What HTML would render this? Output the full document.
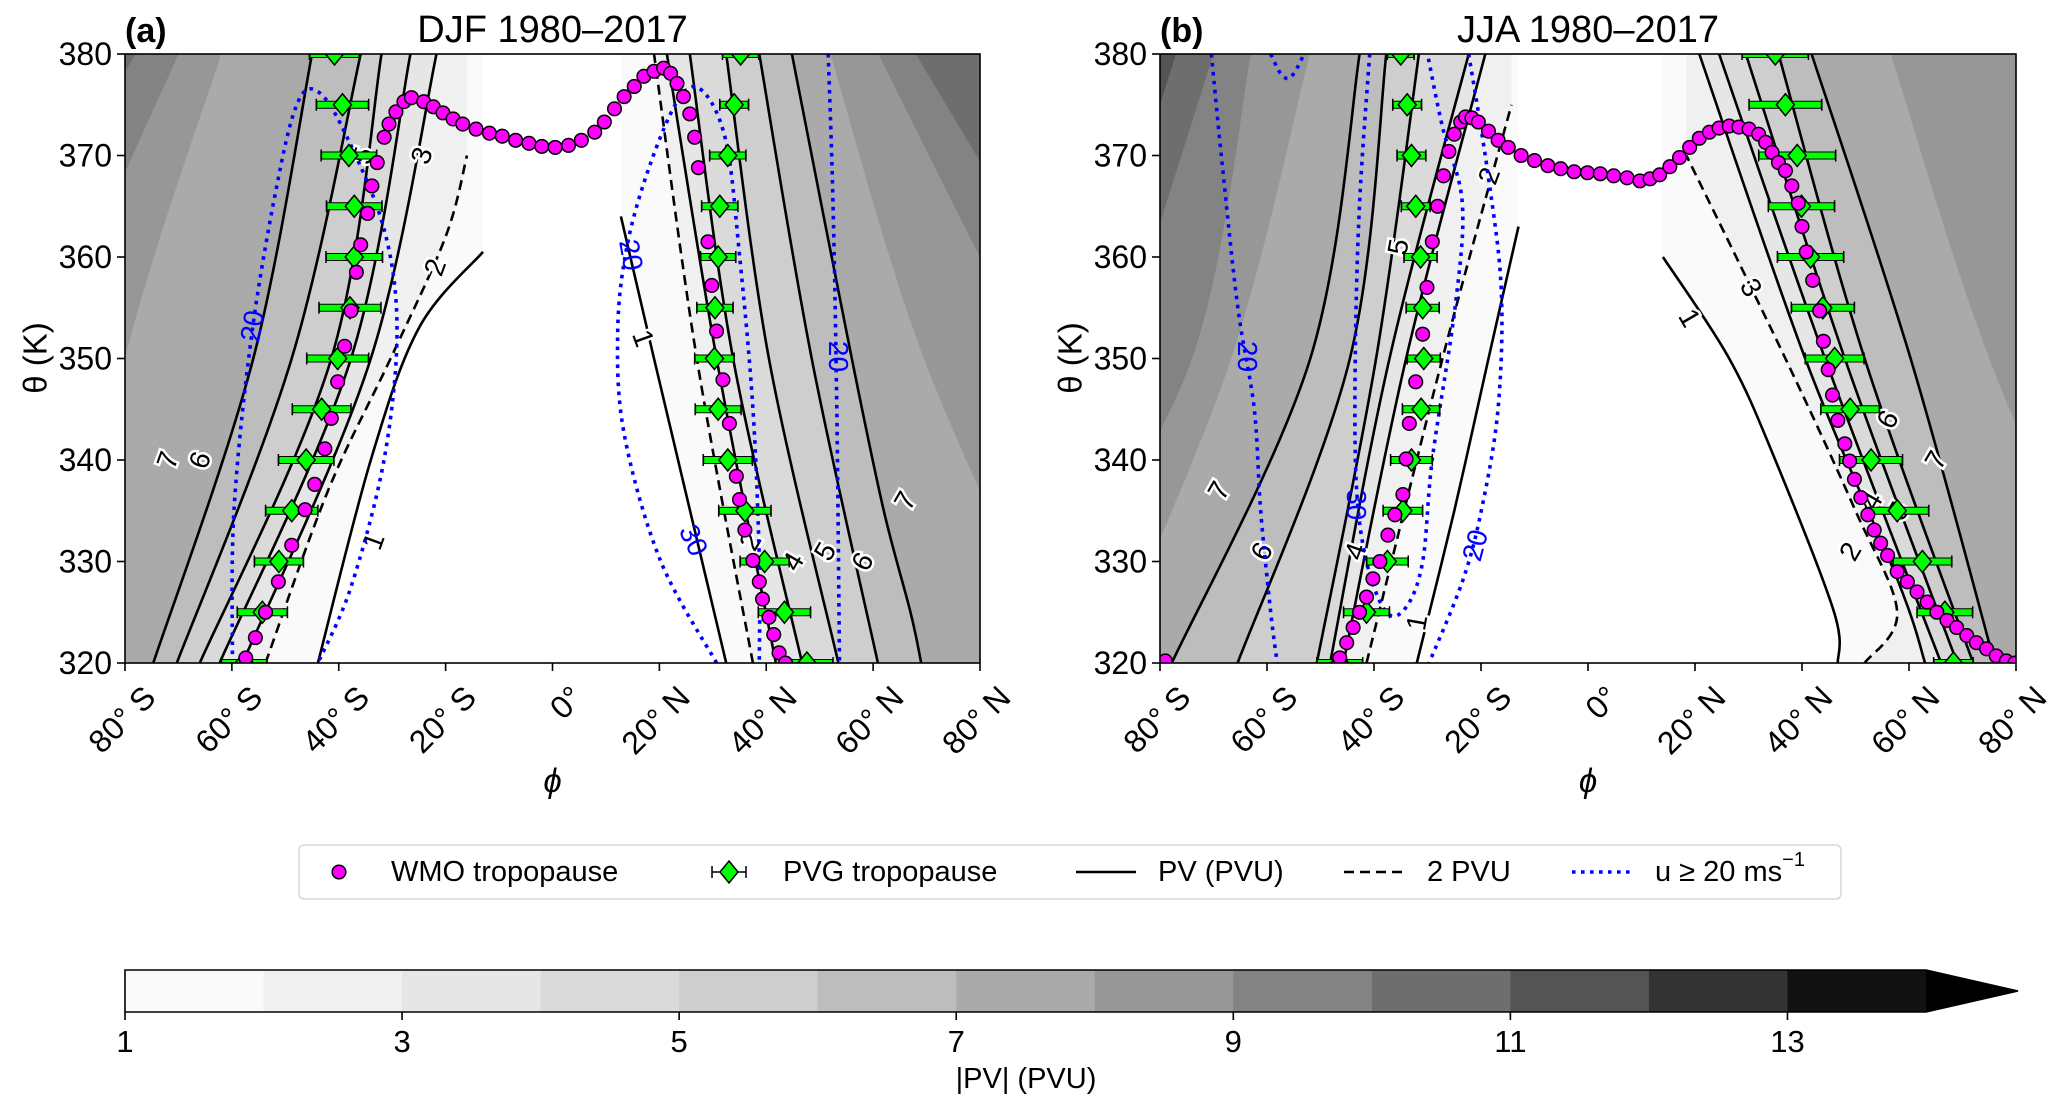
<!DOCTYPE html>
<html><head><meta charset="utf-8"><style>
html,body{margin:0;padding:0;background:#fff;}
svg{display:block;font-family:"Liberation Sans","DejaVu Sans",sans-serif;}
</style></head><body>
<svg id="fig" width="2067" height="1111" viewBox="0 0 2067 1111" xmlns="http://www.w3.org/2000/svg"></svg>
<script>
// ---------- DATA ----------
const pvLevels = [1,2,3,4,5,6,7,8,9,10,11];
const pvLineLevels = [1,2,3,4,5,6,7];
// contour positions [lat, theta]
const aSH = {
 1:[[-43.9,320],[-34,340],[-25,353],[-13,360.5]],
 2:[[-53.7,320],[-42,337],[-30.3,350],[-20,362],[-16,370]],
 3:[[-58,320],[-34,350],[-21.7,380]],
 4:[[-62.3,320],[-37.7,350],[-26.6,380]],
 5:[[-66,320],[-41.4,350],[-32,380]],
 6:[[-70.3,320],[-48.8,350],[-35.9,380]],
 7:[[-74.7,320],[-56,350],[-45,380]],
 8:[[-90,320],[-80,350],[-62,380]],
 9:[[-100,330],[-90,355],[-70,380]],
 10:[[-95,365],[-78,380]]
};
const aNH = {
 1:[[32.5,320],[19,350],[12.8,364]],
 2:[[37.5,320],[27,350],[19,380]],
 3:[[41.8,320],[30.7,350],[21.4,380]],
 4:[[46.7,320],[33.8,350],[25.7,380]],
 5:[[53.5,320],[40.5,350],[32.5,380]],
 6:[[60.9,320],[48.5,350],[38.7,380]],
 7:[[69,320],[67,325],[62,335],[56,350],[44.8,380]],
 8:[[95,320],[69.5,350],[52,380]],
 9:[[100,340],[80,360],[61,380]],
 10:[[85,365],[68,380]]
};
const bSH = {
 1:[[-32,320],[-25,335],[-18.6,350],[-13,363]],
 2:[[-41.4,320],[-27.2,350],[-14.3,375]],
 3:[[-45.7,320],[-34,350],[-19.2,380]],
 4:[[-48.2,320],[-37.1,350],[-22.3,380]],
 5:[[-50.7,320],[-39.6,350],[-31.6,380]],
 6:[[-65.5,320],[-44.5,350],[-37.7,380]],
 7:[[-77.8,320],[-51.9,350],[-42.7,380]],
 8:[[-90,320],[-66.7,350],[-52,380]],
 9:[[-100,325],[-74,350],[-63,380]],
 10:[[-88,350],[-70,380]],
 11:[[-95,350],[-77,380]]
};
const bNH = {
 1:[[46.7,320],[46,325],[35,340],[26.4,350],[14,360]],
 2:[[51.7,320],[57.8,325],[50,335],[36.9,350],[18.4,370]],
 3:[[63,320],[58,328],[40.6,350],[20.8,380]],
 4:[[66,320],[44.3,350],[24.5,380]],
 5:[[69,320],[48,350],[29.5,380]],
 6:[[72,320],[51.7,350],[35.6,380]],
 7:[[76,320],[60.3,350],[41.8,380]],
 8:[[100,320],[75,350],[56.6,380]]
};
// wind (u >= 20 m/s) contours
const aWind = [
 [[-59.9,320],[-59.6,335.1],[-56.2,352.7],[-51.3,367.8],[-47.6,375.3],[-43.9,376.3],[-38.9,372.3],[-31.5,362.7],[-29.1,352.7],[-31.5,340.1],[-37.7,327.5],[-43.9,320]],
 [[30.7,320],[20.2,330.1],[13.4,342.6],[12.2,352.7],[14.0,361.2],[18.4,369.3],[23.9,375.8],[28.2,376.3],[32.5,371.3],[35.0,360.2],[37.5,345.1],[38.7,330.1],[38.7,320]],
 [[51.6,380],[52.5,365.3],[53.2,345.1],[53.7,320]]
];
const bWind = [
 [[-70.4,380],[-68.6,370.3],[-65.5,355.2],[-62.4,345.1],[-61.2,335.1],[-59.3,325.0],[-58.1,320]],
 [[-59.3,380],[-57.5,378.1],[-55.9,377.6],[-54.4,378.6],[-53.1,380]],
 [[-40.8,380],[-42.7,365.3],[-43.5,350.2],[-43.3,337.6],[-41.4,330.0],[-37.7,325.0],[-34.0,325.5],[-30.9,330.0],[-29.1,340.1],[-24.8,355.2],[-23.5,365.3],[-27.2,372.8],[-30.0,380]],
 [[-22.3,380],[-18.6,367.8],[-16.2,356.7],[-16.8,345.1],[-19.9,335.1],[-23.5,328.0],[-29.7,320]]
];
const aWindLabels = [["20",-56.2,353.2,-80],["20",14.7,360.2,80],["30",26.4,332.1,65],["20",53.5,350.2,90]];
const bWindLabels = [["20",-63.6,350.2,90],["30",-43.3,335.6,90],["20",-21.1,331.6,-75]];
const aPvLabels = [["7",-72,340,-70],["6",-66,340,-70],["5",-35.5,370,-70],["3",-24.5,370,-70],["2",-22,359,-70],["1",-33.5,332,-70],["1",17,352,70],["2",37,332,-60],["4",45,330,-60],["5",51,331,-60],["6",58,330,-60],["7",66,336,-60]];
const bPvLabels = [["7",-69,337,-60],["6",-61,331,-60],["4",-43.5,331,-70],["5",-35.5,361,-80],["1",-32,324,-80],["2",-18.5,368,-70],["1",19,354,60],["3",30.5,357,60],["6",56,344,-60],["7",65,340,-60],["4",53,336,-60],["5",58,335,-60],["2",49,331,-60]];
// WMO tropopause [lat, theta]
const aWMO = [[-57.4,320.5],[-55.6,322.5],[-53.7,325.0],[-51.3,328.0],[-48.8,331.6],[-46.3,335.1],[-44.5,337.6],[-42.6,341.1],[-41.4,344.1],[-40.2,347.7],[-38.9,351.2],[-37.7,354.7],[-36.7,358.5],[-35.9,361.2],[-34.6,364.3],[-33.8,367.0],[-32.8,369.3],[-31.5,371.8],[-30.6,373.1],[-29.3,374.3],[-27.8,375.3],[-26.4,375.7],[-24.1,375.3],[-22.3,374.8],[-20.5,374.2],[-18.6,373.6],[-16.8,373.1],[-14.3,372.6],[-11.8,372.2],[-9.4,371.9],[-6.9,371.5],[-4.4,371.2],[-2.0,370.9],[0.5,370.8],[3.0,371.0],[5.4,371.5],[7.9,372.3],[9.7,373.3],[11.6,374.6],[13.4,375.8],[15.3,376.8],[17.1,377.8],[19.0,378.3],[20.8,378.6],[22.1,378.1],[23.3,377.1],[24.5,375.8],[25.7,374.1],[26.6,371.8],[27.3,368.8],[29.1,361.5],[29.8,357.2],[30.7,352.7],[31.9,347.9],[33.1,343.6],[34.4,338.4],[35.0,336.1],[36.0,333.1],[37.5,330.1],[38.7,328.0],[39.3,326.3],[40.5,324.5],[41.4,322.8],[42.4,321.0],[43.6,320]];
const bWMO = [[-79.0,320.2],[-46.4,320.5],[-45.1,322.0],[-43.9,323.5],[-42.7,325.0],[-41.4,326.5],[-40.2,328.3],[-38.9,330.0],[-37.4,332.6],[-36.1,334.6],[-34.6,336.6],[-34.0,340.1],[-33.4,343.6],[-32.2,347.7],[-30.9,352.4],[-30.1,357.0],[-29.1,361.5],[-28.1,365.0],[-27.0,368.0],[-26.0,370.4],[-25.0,372.1],[-23.8,373.3],[-22.9,373.8],[-21.7,373.7],[-20.5,373.3],[-18.6,372.4],[-16.8,371.5],[-14.9,370.8],[-12.5,370.0],[-10.0,369.5],[-7.5,369.0],[-5.1,368.7],[-2.6,368.4],[-0.1,368.3],[2.3,368.2],[4.8,368.0],[7.3,367.8],[9.7,367.5],[11.6,367.7],[13.4,368.1],[15.3,368.9],[17.1,369.8],[19.0,370.8],[20.8,371.7],[22.7,372.3],[24.5,372.7],[26.4,372.9],[28.2,372.8],[30.1,372.6],[31.9,372.1],[33.2,371.3],[34.4,370.3],[35.6,369.3],[36.9,368.5],[38.1,367.0],[39.3,365.3],[40.0,363.0],[40.8,360.5],[42.0,357.7],[43.3,354.7],[44.0,351.7],[44.9,348.9],[45.7,346.4],[46.7,343.9],[48.0,341.6],[48.9,339.9],[49.8,338.1],[51.0,336.3],[52.3,334.6],[53.5,333.1],[54.7,331.8],[56.0,330.6],[57.8,329.0],[59.7,328.0],[61.5,327.0],[63.4,326.0],[65.2,325.0],[67.1,324.2],[68.9,323.5],[70.8,322.7],[72.6,322.0],[74.5,321.4],[76.3,320.7],[78.2,320.2],[79.8,320]];
// PVG tropopause
const pvgTheta = [320,325,330,335,340,345,350,355,360,365,370,375,380];
const aPvgSH = [-57.7,-54.3,-51.2,-48.8,-46.1,-43.2,-40.2,-37.9,-37.1,-37.1,-38.1,-39.3,-40.8];
const aPvgSHerr = [4.3,4.7,4.6,4.9,5.2,5.5,5.8,5.8,5.3,5.2,5.2,4.9,4.7];
const aPvgNH = [47.6,43.4,39.7,36.0,32.8,31.0,30.3,30.4,31.0,31.3,32.8,34.0,35.2];
const aPvgNHerr = [4.9,4.9,4.6,4.9,4.6,4.3,3.7,3.4,3.3,3.4,3.4,2.7,3.4];
const bPvgSH = [-46.4,-41.4,-37.5,-34.6,-33.0,-31.2,-30.7,-30.9,-31.3,-32.2,-33.0,-33.8,-35.0];
const bPvgSHerr = [4.3,4.3,3.9,3.7,3.9,3.5,3.1,3.1,3.1,2.7,2.7,2.7,2.5];
const bPvgNH = [68.3,66.7,62.5,57.8,52.9,49.0,46.1,43.9,41.6,39.9,39.1,36.9,35.0];
const bPvgNHerr = [3.7,5.2,5.5,5.9,5.9,5.5,5.5,5.9,6.2,6.2,7.2,6.8,6.2];
const xTickVals = [-80,-60,-40,-20,0,20,40,60,80];
const xTickLabels = ["80° S","60° S","40° S","20° S","0°","20° N","40° N","60° N","80° N"];
const yTickVals = [320,330,340,350,360,370,380];
const cbarColors = ["#fafafa","#f0f0f0","#e6e6e6","#dadada","#cecece","#bdbdbd","#aaaaaa","#979797","#838383","#6e6e6e","#545454","#333333","#111111"];
const cbarTicks = [1,3,5,7,9,11,13];

// ---------- DRAW ----------
const NS = "http://www.w3.org/2000/svg";
const svg = document.getElementById("fig");
function el(tag, attrs, parent){const e=document.createElementNS(NS,tag);for(const k in attrs)e.setAttribute(k,attrs[k]);(parent||svg).appendChild(e);return e;}
function smooth(pts){
  if(pts.length<3){return "M"+pts.map(p=>p[0].toFixed(1)+","+p[1].toFixed(1)).join("L");}
  let d="M"+pts[0][0].toFixed(1)+","+pts[0][1].toFixed(1);
  for(let i=0;i<pts.length-1;i++){
    const p0=pts[Math.max(0,i-1)],p1=pts[i],p2=pts[i+1],p3=pts[Math.min(pts.length-1,i+2)];
    const t=1/6;
    const c1=[p1[0]+(p2[0]-p0[0])*t,p1[1]+(p2[1]-p0[1])*t];
    const c2=[p2[0]-(p3[0]-p1[0])*t,p2[1]-(p3[1]-p1[1])*t];
    d+="C"+c1.map(v=>v.toFixed(1)).join(",")+" "+c2.map(v=>v.toFixed(1)).join(",")+" "+p2[0].toFixed(1)+","+p2[1].toFixed(1);
  }
  return d;
}
const Y0=54, Y1=663;
function drawPanel(id, X0, X1, SH, NH, wind, windLabels, pvLabels, wmo, pvgSH, pvgSHerr, pvgNH, pvgNHerr, letter, title){
  const sx = lat => X0 + (lat+80)/160*(X1-X0);
  const sy = th => Y1 - (th-320)/60*(Y1-Y0);
  const g = el("g",{});
  
  
  const cp = el("clipPath",{id:"clip"+id},g);
  el("rect",{x:X0,y:Y0,width:X1-X0,height:Y1-Y0},cp);
  const plot = el("g",{"clip-path":"url(#clip"+id+")"},g);
  el("rect",{x:X0,y:Y0,width:X1-X0,height:Y1-Y0,fill:"#ffffff"},plot);
  [SH,NH].forEach((side,si)=>{
    const far = si===0 ? -250 : 250;
    pvLevels.forEach(L=>{
      const c = side[L]; if(!c) return;
      const pts = c.map(p=>[sx(p[0]),sy(p[1])]);
      const first=c[0], last=c[c.length-1];
      let d = smooth(pts);
      d += "L"+sx(last[0]).toFixed(1)+","+sy(Math.max(last[1],385)).toFixed(1);
      d += "L"+sx(far)+","+sy(385)+"L"+sx(far)+","+sy(315);
      d += "L"+sx(first[0]).toFixed(1)+","+sy(315)+"Z";
      const f = el("path",{d:d,fill:cbarColors[Math.min(L-1,12)],stroke:"none"},plot);
      
      
    });
  });
  [SH,NH].forEach(side=>{
    pvLineLevels.forEach(L=>{
      const c = side[L]; if(!c) return;
      const ln = el("path",{d:smooth(c.map(p=>[sx(p[0]),sy(p[1])])),fill:"none",stroke:"#000",
        "stroke-width":2.6,"stroke-dasharray":L===2?"10,6":"none"},plot);
      
      
    });
  });
  pvLabels.forEach(l=>{
    const t = el("text",{x:sx(l[1]),y:sy(l[2]),"font-size":28,"text-anchor":"middle","dominant-baseline":"central",
      transform:"rotate("+l[3]+" "+sx(l[1])+" "+sy(l[2])+")",fill:"#000",stroke:"#fff","stroke-width":5,"paint-order":"stroke"},plot);
    t.textContent = l[0];
    
    
  });
  wind.forEach(c=>{
    const w = el("path",{d:smooth(c.map(p=>[sx(p[0]),sy(p[1])])),fill:"none",stroke:"#0000ff","stroke-width":3.6,"stroke-dasharray":"3.6,5.4"},plot);
    
    
  });
  windLabels.forEach(l=>{
    const t = el("text",{x:sx(l[1]),y:sy(l[2]),"font-size":28,"text-anchor":"middle","dominant-baseline":"central",
      transform:"rotate("+l[3]+" "+sx(l[1])+" "+sy(l[2])+")",fill:"#0000ff"},plot);
    t.textContent = l[0];
    
    
  });
  [[pvgSH,pvgSHerr],[pvgNH,pvgNHerr]].forEach(pair=>{
    pvgTheta.forEach((th,i)=>{
      const x=sx(pair[0][i]), y=sy(th), e=(X1-X0)/160*pair[1][i];
      const gg = el("g",{},plot);
      
      
      el("line",{x1:x-e,x2:x+e,y1:y,y2:y,stroke:"#000","stroke-width":8},gg);
      el("line",{x1:x-e+1,x2:x+e-1,y1:y,y2:y,stroke:"#00ff00","stroke-width":6},gg);
      el("line",{x1:x-e,x2:x-e,y1:y-6,y2:y+6,stroke:"#000","stroke-width":1.5},gg);
      el("line",{x1:x+e,x2:x+e,y1:y-6,y2:y+6,stroke:"#000","stroke-width":1.5},gg);
      el("path",{d:`M${x},${y-11}L${x+9},${y}L${x},${y+11}L${x-9},${y}Z`,fill:"#00ff00",stroke:"#000","stroke-width":1.5},gg);
    });
  });
  wmo.forEach(p=>{
    const c = el("circle",{cx:sx(p[0]),cy:sy(p[1]),r:6.8,fill:"#ff00ff",stroke:"#000","stroke-width":1.5},plot);
    
    
  });
  const fr = el("rect",{x:X0,y:Y0,width:X1-X0,height:Y1-Y0,fill:"none",stroke:"#000","stroke-width":1.6},g);
  
  
  xTickVals.forEach((v,i)=>{
    const x=sx(v);
    el("line",{x1:x,x2:x,y1:Y1,y2:Y1+8,stroke:"#000","stroke-width":1.6},g);
    const t = el("text",{x:x+16,y:Y1+20,"font-size":32,"text-anchor":"end","dominant-baseline":"hanging",transform:`rotate(-45 ${x+16} ${Y1+20})`},g);
    t.textContent = xTickLabels[i];
    
    
  });
  yTickVals.forEach(v=>{
    const y=sy(v);
    el("line",{x1:X0-8,x2:X0,y1:y,y2:y,stroke:"#000","stroke-width":1.6},g);
    const t = el("text",{x:X0-13,y:y,"font-size":32,"text-anchor":"end","dominant-baseline":"central"},g);
    t.textContent = v;
    
    
  });
  const xl = el("text",{x:(X0+X1)/2,y:792,"font-size":33,"text-anchor":"middle","font-style":"italic"},g);
  xl.textContent = "ϕ";
  
  
  const yl = el("text",{x:X0-90,y:358,"font-size":33,"text-anchor":"middle","dominant-baseline":"central",transform:`rotate(-90 ${X0-90} 358)`},g);
  yl.textContent = "θ (K)";
  
  
  const pl = el("text",{x:X0,y:42,"font-size":34,"font-weight":"bold"},g);
  pl.textContent = letter;
  
  
  const tt = el("text",{x:(X0+X1)/2,y:42,"font-size":38,"text-anchor":"middle"},g);
  tt.textContent = title;
  
  
}
drawPanel("a",125,980,aSH,aNH,aWind,aWindLabels,aPvLabels,aWMO,aPvgSH,aPvgSHerr,aPvgNH,aPvgNHerr,"(a)","DJF 1980–2017");
drawPanel("b",1160,2016,bSH,bNH,bWind,bWindLabels,bPvLabels,bWMO,bPvgSH,bPvgSHerr,bPvgNH,bPvgNHerr,"(b)","JJA 1980–2017");

// legend
const lg = el("g",{});


el("rect",{x:299,y:845,width:1542,height:54,rx:5,fill:"#fff",stroke:"#d8d8d8","stroke-width":1.6},lg);
const LY=872;
el("circle",{cx:339,cy:LY,r:6.8,fill:"#ff00ff",stroke:"#000","stroke-width":1.5},lg);
el("line",{x1:712,x2:746,y1:LY,y2:LY,stroke:"#000","stroke-width":1.5},lg);
el("line",{x1:712,x2:712,y1:LY-6,y2:LY+6,stroke:"#000","stroke-width":1.5},lg);
el("line",{x1:746,x2:746,y1:LY-6,y2:LY+6,stroke:"#000","stroke-width":1.5},lg);
el("path",{d:`M729,${LY-11}L738,${LY}L729,${LY+11}L720,${LY}Z`,fill:"#00ff00",stroke:"#000","stroke-width":1.5},lg);
el("line",{x1:1076,x2:1136,y1:LY,y2:LY,stroke:"#000","stroke-width":2.6},lg);
el("line",{x1:1344,x2:1404,y1:LY,y2:LY,stroke:"#000","stroke-width":2.6,"stroke-dasharray":"10,6"},lg);
el("line",{x1:1572,x2:1632,y1:LY,y2:LY,stroke:"#0000ff","stroke-width":3.6,"stroke-dasharray":"3.6,5.4"},lg);
[["WMO tropopause",391],["PVG tropopause",783],["PV (PVU)",1158],["2 PVU",1427]].forEach(e=>{
  const t=el("text",{x:e[1],y:LY,"font-size":29,"dominant-baseline":"central"},lg);
  t.textContent=e[0];
  
  
});
const ut=el("text",{x:1655,y:LY,"font-size":29,"dominant-baseline":"central"},lg);
ut.innerHTML='u ≥ 20 ms<tspan dy="-12" font-size="20">−1</tspan>';



// colorbar
const cb = el("g",{});


const CX0=125, CX1=1926, CY0=970, CY1=1012, cw=(CX1-CX0)/13;
cbarColors.forEach((c,i)=>{
  const r=el("rect",{x:CX0+i*cw,y:CY0,width:cw+0.6,height:CY1-CY0,fill:c},cb);
  
  
});
el("path",{d:`M${CX1},${CY0}L2018,${(CY0+CY1)/2}L${CX1},${CY1}Z`,fill:"#000"},cb);
el("path",{d:`M${CX0},${CY0}L${CX1},${CY0}L2018,${(CY0+CY1)/2}L${CX1},${CY1}L${CX0},${CY1}Z`,fill:"none",stroke:"#000","stroke-width":1.6},cb);
cbarTicks.forEach(v=>{
  const x=CX0+(v-1)*cw;
  el("line",{x1:x,x2:x,y1:CY1,y2:CY1+8,stroke:"#000","stroke-width":1.6},cb);
  const t=el("text",{x:x,y:CY1+40,"font-size":31,"text-anchor":"middle"},cb);
  t.textContent=v;
  
  
});
const cbl=el("text",{x:1026,y:1088,"font-size":29,"text-anchor":"middle"},cb);
cbl.textContent="|PV| (PVU)";


</script>
</body></html>
